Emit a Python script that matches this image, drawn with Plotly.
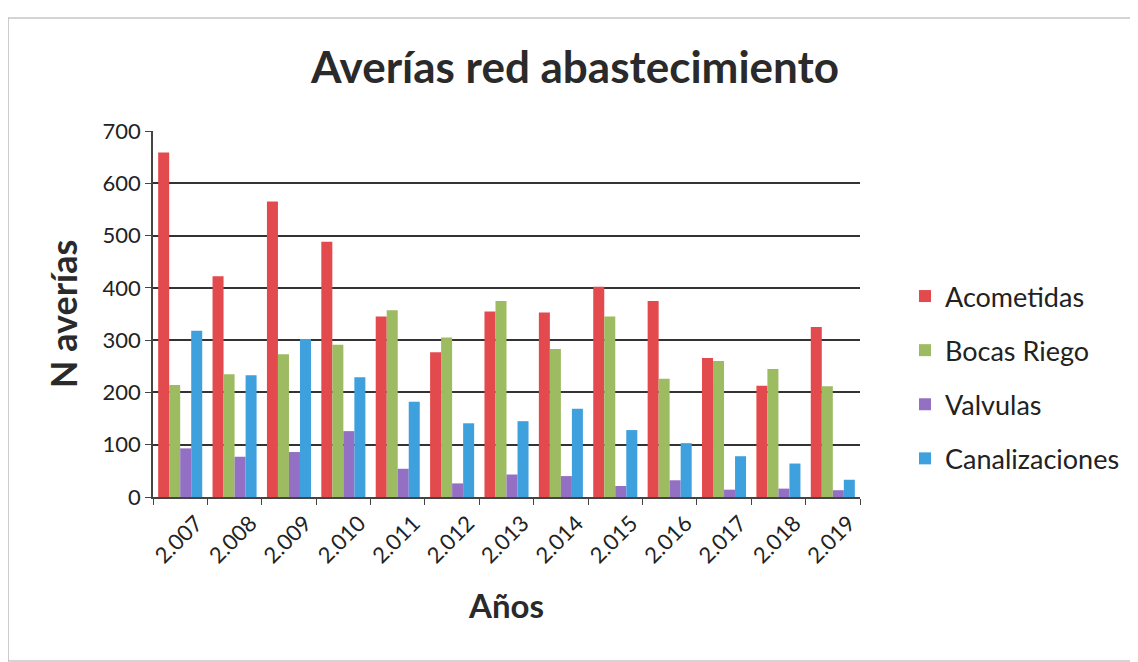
import plotly.graph_objects as go

years = ["2.007", "2.008", "2.009", "2.010", "2.011", "2.012", "2.013",
         "2.014", "2.015", "2.016", "2.017", "2.018", "2.019"]
acometidas = [659, 422, 565, 488, 345, 277, 355, 353, 402, 375, 266, 213, 325]
bocas_riego = [214, 235, 273, 291, 357, 305, 375, 283, 345, 226, 260, 245, 212]
valvulas = [93, 77, 86, 126, 54, 26, 43, 40, 21, 32, 14, 16, 13]
canalizaciones = [318, 233, 302, 229, 182, 141, 145, 169, 128, 103, 78, 64, 33]

series = [
    ("Acometidas", acometidas, "#E34A4E"),
    ("Bocas Riego", bocas_riego, "#9DBB61"),
    ("Valvulas", valvulas, "#9370C4"),
    ("Canalizaciones", canalizaciones, "#3FA0DE"),
]

FONT = "Lato, 'Open Sans', sans-serif"

fig = go.Figure()
for name, vals, col in series:
    fig.add_trace(go.Bar(name=name, x=years, y=vals, marker_color=col,
                         marker_line_width=0, legendgroup=name))

OFF = 8  # page body margin
W, H = 1130, 654
L, T = 153 - OFF, 131 - OFF
R = W - (860 - OFF)
B = H - (497 - OFF)
pw, ph = W - L - R, H - T - B

fig.update_layout(
    width=W, height=H,
    margin=dict(l=L, r=R, t=T, b=B, autoexpand=False),
    paper_bgcolor="white", plot_bgcolor="white",
    font=dict(family=FONT, color="#222222"),
    barmode="group", bargap=0.19, bargroupgap=0,
    title=dict(text="<b>Averías red abastecimiento</b>", x=(575 - OFF) / W, xanchor="center",
               y=1 - (68 - OFF) / H, yanchor="middle",
               font=dict(size=44, color="#2a2a2a", family=FONT)),
    legend=dict(x=(905 - L - OFF) / pw, y=(H - B - (296 - OFF) + 24) / ph,
                xanchor="left", yanchor="top",
                font=dict(size=27, family=FONT, color="#222222"),
                tracegroupgap=16, itemsizing="constant", bgcolor="rgba(0,0,0,0)",
                traceorder="grouped"),
    showlegend=True,
)

fig.update_xaxes(
    type="category", showline=True, linecolor="#444444", linewidth=1.5,
    ticks="outside", tickson="boundaries", ticklen=6, tickcolor="#444444",
    tickangle=-45, tickfont=dict(size=22, family=FONT, color="#222222"),
    ticklabelshift=16, ticklabelstandoff=3,
    title=dict(text="<b>Años</b>", font=dict(size=33, family=FONT, color="#2a2a2a"), standoff=28),
    showgrid=False,
)
fig.update_yaxes(
    range=[0, 700], dtick=100, showline=True, linecolor="#444444", linewidth=1.5,
    ticks="outside", ticklen=6, tickcolor="#444444",
    showgrid=True, gridcolor="#333333", gridwidth=1.5,
    tickfont=dict(size=22, family=FONT, color="#222222"),
    title=dict(text="<b>N averías</b>", font=dict(size=36, family=FONT, color="#2a2a2a"), standoff=14),
    zeroline=False,
)

# light outer chart frame
fig.add_shape(type="rect", xref="paper", yref="paper",
              x0=(8 - OFF - L) / pw, x1=(W - 1 - L) / pw,
              y0=(H - B - (H - 1)) / ph, y1=(H - B - (18 - OFF)) / ph,
              line=dict(color="#aaaaaa", width=1.2), layer="below")

fig.write_html("out.html")
